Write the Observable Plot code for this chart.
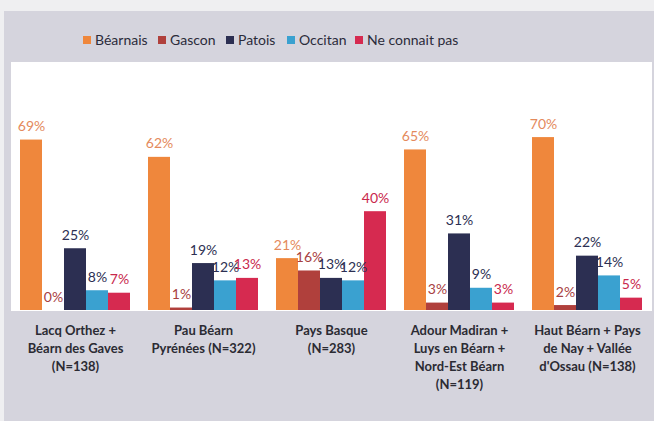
<!DOCTYPE html>
<html>
<head>
<meta charset="utf-8">
<script src="https://cdn.jsdelivr.net/npm/d3@7"></script>
<script src="https://cdn.jsdelivr.net/npm/@observablehq/plot@0.6"></script>
<style>
  html, body { margin: 0; padding: 0; background: #efeff1; width: 654px; height: 421px; overflow: hidden; }
  #chart { position: absolute; left: 4px; top: 11px; width: 650px; height: 410px; background: #d5d4dd; font-family: Lato, "Open Sans", sans-serif; }
  #legend { position: relative; height: 51px; }
  .item { position: absolute; top: 20px; display: flex; align-items: center; font-size: 14px; color: #2b2b3a; white-space: nowrap; }
  .sw { width: 8px; height: 8px; margin-right: 4px; }
  svg { display: block; }
</style>
</head>
<body>
<div id="chart"><div id="legend"></div><div id="plot"></div></div>
<script>
const regions = [
  "Lacq Orthez +\nBéarn des Gaves\n(N=138)",
  "Pau Béarn\nPyrénées (N=322)",
  "Pays Basque\n(N=283)",
  "Adour Madiran +\nLuys en Béarn +\nNord-Est Béarn\n(N=119)",
  "Haut Béarn + Pays\nde Nay + Vallée\nd'Ossau (N=138)"
];
const series = ["Béarnais", "Gascon", "Patois", "Occitan", "Ne connait pas"];
const bearnais = [69, 62, 21, 65, 70];
const gascon = [0, 1, 16, 3, 2];
const patois = [25, 19, 13, 31, 22];
const occitan = [8, 12, 12, 9, 14];
const neConnaitPas = [7, 13, 40, 3, 5];
const colors = ["#ef873c", "#b0403c", "#2c2f52", "#3aa1d0", "#d62a50"];
const labelColors = ["#e48a5c", "#a8413f", "#2c2f52", "#2c2f52", "#c9284c"];

const values = [bearnais, gascon, patois, occitan, neConnaitPas];
const data = [];
regions.forEach((r, i) => series.forEach((s, j) => data.push({region: r, series: s, value: values[j][i]})));

// legend
const legendX = [79, 154, 222, 283, 351];
const legend = document.getElementById("legend");
series.forEach((s, i) => {
  const it = document.createElement("div");
  it.className = "item";
  it.style.left = legendX[i] + "px";
  it.innerHTML = `<span class="sw" style="background:${colors[i]}"></span><span>${s}</span>`;
  legend.appendChild(it);
});

const chart = Plot.plot({
  width: 650,
  height: 359,
  marginTop: 0,
  marginBottom: 111,
  marginLeft: 6,
  marginRight: 2,
  style: {background: "transparent", fontFamily: "Lato, 'Open Sans', sans-serif", overflow: "visible"},
  fx: {domain: regions, padding: 0, label: null},
  x: {domain: series, paddingInner: 0, paddingOuter: 0.33, axis: null},
  y: {domain: [0, 100.4], axis: null},
  color: {domain: series, range: colors},
  marks: [
    Plot.frame({fill: "white", stroke: "white"}),
    Plot.barY(data, {fx: "region", x: "series", y: "value", fill: "series"}),
    ...series.map((s, j) => Plot.text(data.filter(d => d.series === s), {
      fx: "region", x: "series", y: "value", text: d => d.value + "%",
      fill: labelColors[j], lineAnchor: "bottom", dy: -9, fontSize: 14
    })),
    Plot.axisFx({anchor: "bottom", tickSize: 0, tickPadding: 12, fontSize: 13, fontWeight: "bold",
      lineHeight: 1.38, lineAnchor: "top", label: null, fill: "#2b2b33"})
  ]
});
document.getElementById("plot").appendChild(chart);
</script>
</body>
</html>
